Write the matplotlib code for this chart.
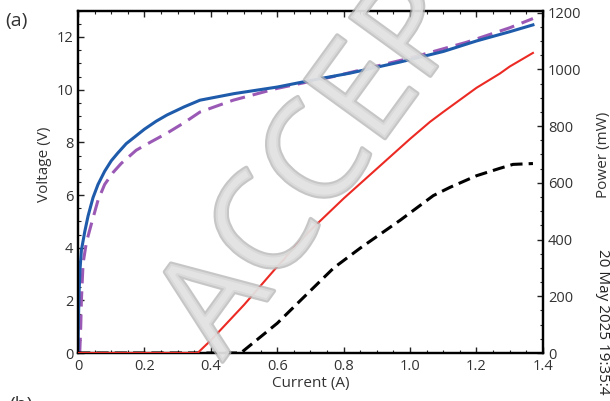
import numpy as np
import matplotlib
matplotlib.use('Agg')
from matplotlib import pyplot as plt
from matplotlib.ticker import MultipleLocator
import matplotlib.patheffects as pe

plt.rcParams['font.family'] = ['Open Sans', 'DejaVu Sans']

# voltage curves (V)
blue_i = [0.0, 0.001, 0.003, 0.006, 0.01, 0.02, 0.03, 0.045, 0.06, 0.08, 0.1, 0.12, 0.145,
          0.17, 0.2, 0.235, 0.268, 0.32, 0.367, 0.47, 0.6, 0.7, 0.82, 0.97, 1.1, 1.2, 1.3, 1.37]
blue_v = [0.0, 1.2, 2.3, 3.2, 3.9, 4.6, 5.2, 5.9, 6.4, 6.9, 7.3, 7.6, 7.95,
          8.2, 8.5, 8.8, 9.04, 9.35, 9.6, 9.85, 10.1, 10.35, 10.63, 11.05, 11.45, 11.85, 12.2, 12.46]

purple_i = [0.005, 0.008, 0.01, 0.015, 0.025, 0.04, 0.06, 0.08, 0.105, 0.13, 0.175, 0.217, 0.268,
            0.32, 0.367, 0.467, 0.6, 0.77, 1.0, 1.17, 1.3, 1.37]
purple_v = [0.0, 1.0, 2.0, 3.4, 4.2, 4.9, 5.8, 6.4, 6.85, 7.2, 7.7, 8.0, 8.35,
            8.75, 9.15, 9.6, 10.05, 10.5, 11.2, 11.8, 12.35, 12.7]

# power curves (mW)
red_i = [0.0, 0.36, 0.4, 0.5, 0.6, 0.62, 0.63, 0.7, 0.8, 0.9, 1.0, 1.06, 1.1, 1.2, 1.27, 1.3, 1.37]
red_p = [0, 0, 45, 170, 305, 330, 345, 433, 545, 650, 755, 815, 850, 935, 985, 1010, 1058]

black_i = [0.0, 0.49, 0.6, 0.68, 0.77, 0.85, 0.97, 1.07, 1.12, 1.2, 1.27, 1.31, 1.37]
black_p = [0, 0, 105, 197, 300, 370, 468, 555, 584, 625, 651, 665, 668]

fig = plt.figure(figsize=(6.1, 4.01), dpi=100)
ax = fig.add_axes([0.128, 0.1197, 0.762, 0.8537])
ax2 = ax.twinx()

ax.plot(blue_i, blue_v, color='#1f5bab', lw=2.2, zorder=3)
ax.plot(purple_i, purple_v, color='#9b59b6', lw=2.2, dashes=(5, 2.6), zorder=2)
ax2.plot(red_i, red_p, color='#ec2a24', lw=1.5, zorder=3)
ax2.plot(black_i, black_p, color='black', lw=2.2, dashes=(4, 2), zorder=2)

ax.set_xlim(0, 1.4)
ax.set_ylim(0, 13)
ax2.set_ylim(0, 1207)

ax.xaxis.set_major_locator(MultipleLocator(0.2))
ax.xaxis.set_minor_locator(MultipleLocator(0.05))
ax.yaxis.set_major_locator(MultipleLocator(2))
ax.yaxis.set_minor_locator(MultipleLocator(0.5))
ax2.yaxis.set_major_locator(MultipleLocator(200))
ax2.yaxis.set_minor_locator(MultipleLocator(50))
ax.set_xticks([0, 0.2, 0.4, 0.6, 0.8, 1.0, 1.2, 1.4])
ax.set_xticklabels(['0', '0.2', '0.4', '0.6', '0.8', '1.0', '1.2', '1.4'])

for a in (ax, ax2):
    for s in a.spines.values():
        s.set_linewidth(1.6)
    a.tick_params(which='both', direction='in', labelsize=10.5, colors='#222222',
                  labelcolor='#333333')
    a.tick_params(which='major', length=4, width=1)
    a.tick_params(which='minor', length=2.5, width=0.8)
ax.tick_params(axis='x', which='both', top=True)
ax.tick_params(axis='x', pad=4)

ax.set_xlabel('Current (A)', fontsize=11, color='#333333', labelpad=2)
ax.set_ylabel('Voltage (V)', fontsize=11, color='#333333')
ax2.set_ylabel('Power (mW)', fontsize=11, color='#333333')
ax.yaxis.set_label_coords(-0.056, 0.55)
ax2.yaxis.set_label_coords(1.114, 0.58)

fig.text(0.008, 0.935, '(a)', fontsize=14, color='#333333')
fig.text(0.015, 0.012, '(b)', fontsize=14, color='#333333', va='top')
fig.text(0.988, 0.38, '20 May 2025 19:35:4', rotation=-90, fontsize=11,
         color='#222222', va='top', ha='center')

# watermark
fig.text(0.643, 0.835, 'ACCEPTED', rotation=54, fontsize=100, color='#e2e2e2',
         ha='center', va='center', alpha=0.75, zorder=10,
         path_effects=[pe.withStroke(linewidth=3, foreground='#b4b4b4')])

fig.savefig('out.png', dpi=100)
